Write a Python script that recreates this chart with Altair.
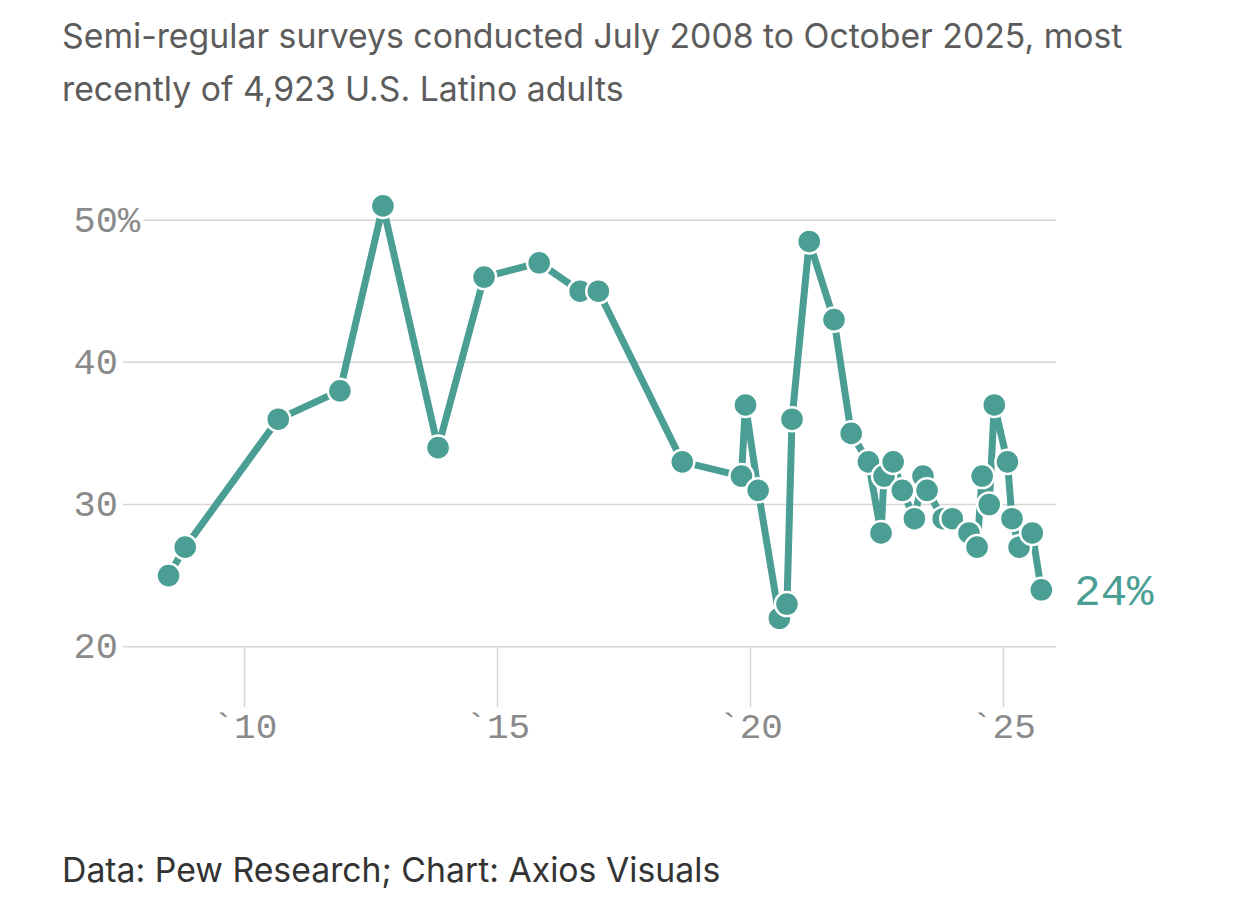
import altair as alt
import pandas as pd

# survey dates (decimal years) and share (%)
years = [2008.50, 2008.83, 2010.67, 2011.89, 2012.74, 2013.83, 2014.74, 2015.83,
         2016.64, 2017.00, 2018.66, 2019.83, 2019.91, 2020.16, 2020.58, 2020.73,
         2020.83, 2021.17, 2021.66, 2022.00, 2022.34, 2022.59, 2022.65, 2022.83,
         2023.01, 2023.25, 2023.42, 2023.50, 2023.82, 2024.00, 2024.33, 2024.49,
         2024.59, 2024.73, 2024.83, 2025.09, 2025.18, 2025.32, 2025.58, 2025.76]
values = [25, 27, 36, 38, 51, 34, 46, 47,
          45, 45, 33, 32, 37, 31, 22, 23,
          36, 48.5, 43, 35, 33, 28, 32, 33,
          31, 29, 32, 31, 29, 29, 28, 27,
          32, 30, 37, 33, 29, 27, 28, 24]

x_ticks = [2010, 2015, 2020, 2025]
y_ticks = [20, 30, 40, 50]
grid_start = [2007.6, 2007.6, 2007.6, 2008.0]
x_domain = [2007.6, 2026.05]
y_domain = [20, 52]

title_lines = ["Semi-regular surveys conducted July 2008 to October 2025, most",
               "recently of 4,923 U.S. Latino adults"]
footer = "Data: Pew Research; Chart: Axios Visuals"

TEAL = "#4a9e93"
MONO = "Liberation Mono"
SANS = "Inter"

df = pd.DataFrame({"year": years, "value": values})
df["label"] = ""
df.loc[df.index[-1], "label"] = "24%"
grid = pd.DataFrame({"v": y_ticks, "start": grid_start, "end": [x_domain[1]] * 4})

W, H = 933, 455

xs = alt.Scale(domain=x_domain, nice=False, zero=False)
ys = alt.Scale(domain=y_domain, nice=False, zero=False)

x_axis = alt.Axis(values=x_ticks, labelExpr="'`' + (datum.value - 2000)", grid=False,
                  domain=False, ticks=True, tickSize=60, tickColor="#d6d6d6", tickWidth=1.5,
                  labelFont=MONO, labelFontSize=36, labelColor="#8a8a8a", labelPadding=3,
                  title=None)
y_axis = alt.Axis(values=y_ticks, labelExpr="datum.value == 50 ? '50%' : datum.value",
                  grid=False, domain=False, ticks=False, tickSize=0, labelAlign="left",
                  labelPadding=50, labelFont=MONO, labelFontSize=37, labelColor="#8a8a8a",
                  title=None)

gridlines = alt.Chart(grid).mark_rule(color="#d6d6d6", strokeWidth=1.5).encode(
    x=alt.X("start:Q", scale=xs, axis=x_axis),
    x2="end:Q",
    y=alt.Y("v:Q", scale=ys, axis=y_axis),
)

line = alt.Chart(df).mark_line(color=TEAL, strokeWidth=7).encode(
    x=alt.X("year:Q", scale=xs),
    y=alt.Y("value:Q", scale=ys),
)
points = alt.Chart(df).mark_circle(color=TEAL, opacity=1, size=580, stroke="white",
                                   strokeWidth=2.5).encode(
    x=alt.X("year:Q", scale=xs),
    y=alt.Y("value:Q", scale=ys),
)
end_label = alt.Chart(df).transform_filter("datum.label != ''").mark_text(
    align="left", baseline="middle", dx=33, dy=2, font=MONO, fontSize=44, color=TEAL
).encode(
    x=alt.X("year:Q", scale=xs),
    y=alt.Y("value:Q", scale=ys),
    text="label:N",
)

title = alt.Chart(pd.DataFrame({"t": ["\n".join(title_lines)]})).mark_text(
    align="left", baseline="alphabetic", font=SANS, fontSize=33.8, color="#5c5c5c",
    lineHeight=53, lineBreak="\n"
).encode(x=alt.value(-61), y=alt.value(-143.5), text="t:N")

foot = alt.Chart(pd.DataFrame({"t": [footer]})).mark_text(
    align="left", baseline="alphabetic", font=SANS, fontSize=33.8, color="#333333"
).encode(x=alt.value(-61), y=alt.value(690.3), text="t:N")

chart = alt.layer(gridlines, line, points, end_label, title, foot).properties(
    width=W, height=H,
    autosize=alt.AutoSizeParams(type="none"),
    padding={"left": 115, "top": 183.7, "right": 140, "bottom": 250},
    background="white",
).configure_view(stroke=None)

chart.save("out.html", embed_options={"renderer": "svg", "actions": False})
